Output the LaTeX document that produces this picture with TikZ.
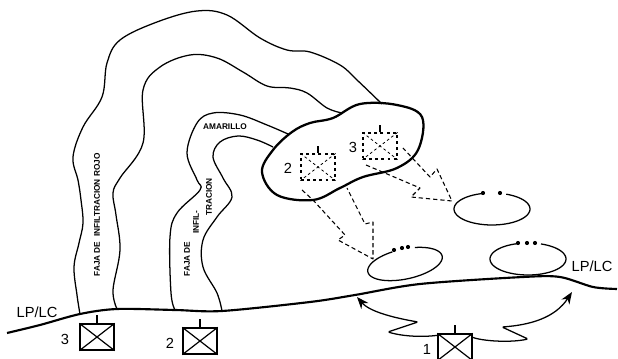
\documentclass[tikz,border=0pt]{standalone}
\usepackage{fontspec}
\setmainfont{Liberation Sans}
\usetikzlibrary{arrows.meta, positioning, calc}

\begin{document}
\begin{tikzpicture}[
    x=0.75pt, y=-0.75pt,
    % Line styles
    bandline/.style={line width=0.95pt, smooth, tension=0.6},
    basinline/.style={line width=1.7pt, line join=round},
    frontline/.style={line width=1.6pt},
    moveline/.style={line width=0.8pt, dash pattern=on 3.2pt off 2.2pt, line join=round},
    objline/.style={line width=0.95pt, smooth, samples=60},
    flankarrow/.style={line width=0.95pt, -{Stealth[length=9pt, width=7pt]}},
    % Unit styles
    unitbox/.style={draw, line width=1pt, minimum width=25.5pt, minimum height=19.5pt, inner sep=0pt},
    ghostbox/.style={unitbox, line width=0.85pt, dash pattern=on 2.2pt off 2.4pt},
    % Text styles
    bigtext/.style={font=\fontsize{11}{11}\selectfont},
    smalltext/.style={font=\fontsize{6.2}{6.2}\selectfont\bfseries, inner sep=0pt},
    objdot/.style={circle, fill, inner sep=1.1pt}
]
\useasboundingbox (0,0) rectangle (618,359);

% Infiltration lanes
\draw[bandline] plot coordinates {(80,314) (77,295) (74,267) (79,243) (83,223) (81,200) (78,180) (73,157) (83,127) (102,97) (107,63) (120,40) (157,22) (197,11) (227,15) (260,38) (287,50) (310,52) (340,65) (357,80) (382,104)};
\draw[bandline] plot coordinates {(117,309) (113,290) (120,250) (116,215) (113,193) (120,178) (143,143) (143,90) (160,67) (190,55) (217,58) (243,72) (267,86) (290,88) (307,93) (327,108) (342,113)};
\draw[bandline] plot coordinates {(175,310) (171,293) (170,237) (177,213) (200,190) (197,180) (187,153) (197,123) (213,113) (240,115) (267,125) (288,134)};
\draw[bandline] plot coordinates {(222,311) (217,293) (203,267) (203,240) (217,217) (232,197) (223,178) (213,157) (220,142) (238,136) (257,140) (273,147)};

% Line of departure
\draw[frontline, smooth, tension=0.5] plot coordinates {(7,333) (40,325) (80,314) (117,309) (175,310) (222,311) (310,302) (355,295) (420,284) (523,277) (560,277) (593,287) (617,289)};

% Assembly area
\draw[basinline, smooth cycle, tension=0.6] plot coordinates {(262,172) (273,150) (292,132) (310,123) (333,118) (360,104) (397,105) (422,117) (418,150) (397,168) (363,177) (340,188) (313,200) (277,195)};

% Objectives
\node[inner sep=0pt] (obj_a) at (492,209) {};
\begin{scope}[shift={(obj_a)}]
  \draw[objline, domain=-257:68] plot ({38*cos(\x)},{-16*sin(\x)});
\end{scope}
\node[objdot] (dot_a1) at (483,193) {};
\node[objdot] (dot_a2) at (500,193) {};
\node[inner sep=0pt] (obj_b) at (528,259) {};
\begin{scope}[shift={(obj_b)}]
  \draw[objline, domain=-255:70] plot ({38*cos(\x)},{-16*sin(\x)});
\end{scope}
\node[objdot] (dot_b1) at (518,243) {};
\node[objdot] (dot_b2) at (527,243) {};
\node[objdot] (dot_b3) at (535,243) {};
\node[inner sep=0pt] (obj_c) at (405,264) {};
\begin{scope}[shift={(obj_c)}, rotate=12]
  \draw[objline, domain=-255:70] plot ({38*cos(\x)},{-15*sin(\x)});
\end{scope}
\node[objdot] (dot_c1) at (394,250) {};
\node[objdot] (dot_c2) at (402,248) {};
\node[objdot] (dot_c3) at (408,247) {};

% Dashed attack arrows
\draw[moveline] (366,165) -- (420,188) -- (411,197) -- (452,201) -- (437,169) -- (430,177) -- (403,148);
\draw[moveline] (302,190) -- (313,200) -- (345,235) -- (338,240) -- (373,259) -- (373,222) -- (365,224) -- (347,188);

% Units in the line
\foreach \i/\ux/\uy/\ulab/\nx in {three/97/337/3/65, two/200/341/2/170, one/455/347/1/427} {
    \node[unitbox] (unit_\i) at (\ux,\uy) {};
    \draw[line width=0.9pt] (unit_\i.north west) -- (unit_\i.south east);
    \draw[line width=0.9pt] (unit_\i.north east) -- (unit_\i.south west);
    \draw[line width=0.8pt] (unit_\i.north) -- ++(0,-8);
    \node[bigtext, inner sep=0pt] (lab_\i) at (\nx,\uy+2) {\ulab};
}

% Units in the assembly area
\foreach \i/\ux/\uy/\ulab/\nx in {two/318/167/2/288, three/380/146/3/353} {
    \node[ghostbox] (ghost_\i) at (\ux,\uy) {};
    \draw[line width=0.6pt, dash pattern=on 2pt off 2pt] (ghost_\i.north west) -- (ghost_\i.south east);
    \draw[line width=0.6pt, dash pattern=on 2pt off 2pt] (ghost_\i.north east) -- (ghost_\i.south west);
    \draw[line width=0.9pt] (ghost_\i.north) -- ++(0,-7);
    \node[bigtext, inner sep=0pt] (glab_\i) at (\nx,\uy+1) {\ulab};
}

% Flank arrows from unit 1
\draw[flankarrow, rounded corners=1pt] ([yshift=-1.5pt]unit_one.north west) .. controls (425,337) and (405,337) .. (388,332) -- (418,322) .. controls (395,318) and (370,312) .. (357,297);
\draw[flankarrow, rounded corners=1pt] ([yshift=-3pt]unit_one.north east) .. controls (482,341) and (510,343) .. (528,339) -- (502,327) .. controls (530,325) and (555,318) .. (572,292);

% Texts
\node[bigtext, inner sep=0pt] (lp_left) at (37,312) {LP/LC};
\node[bigtext, inner sep=0pt] (lp_right) at (592,266) {LP/LC};
\node[smalltext] (amarillo) at (225,127) {AMARILLO};
\node[smalltext, rotate=90] (lane_rojo) at (97,215) {FAJA DE\ \ INFILTRACION ROJO};
\node[smalltext, rotate=90] (lane_a) at (187,259) {FAJA DE};
\node[smalltext, rotate=90] (lane_b) at (196,222) {INFIL-};
\node[smalltext, rotate=90] (lane_c) at (209,197) {TRACION};
\end{tikzpicture}
\end{document}
